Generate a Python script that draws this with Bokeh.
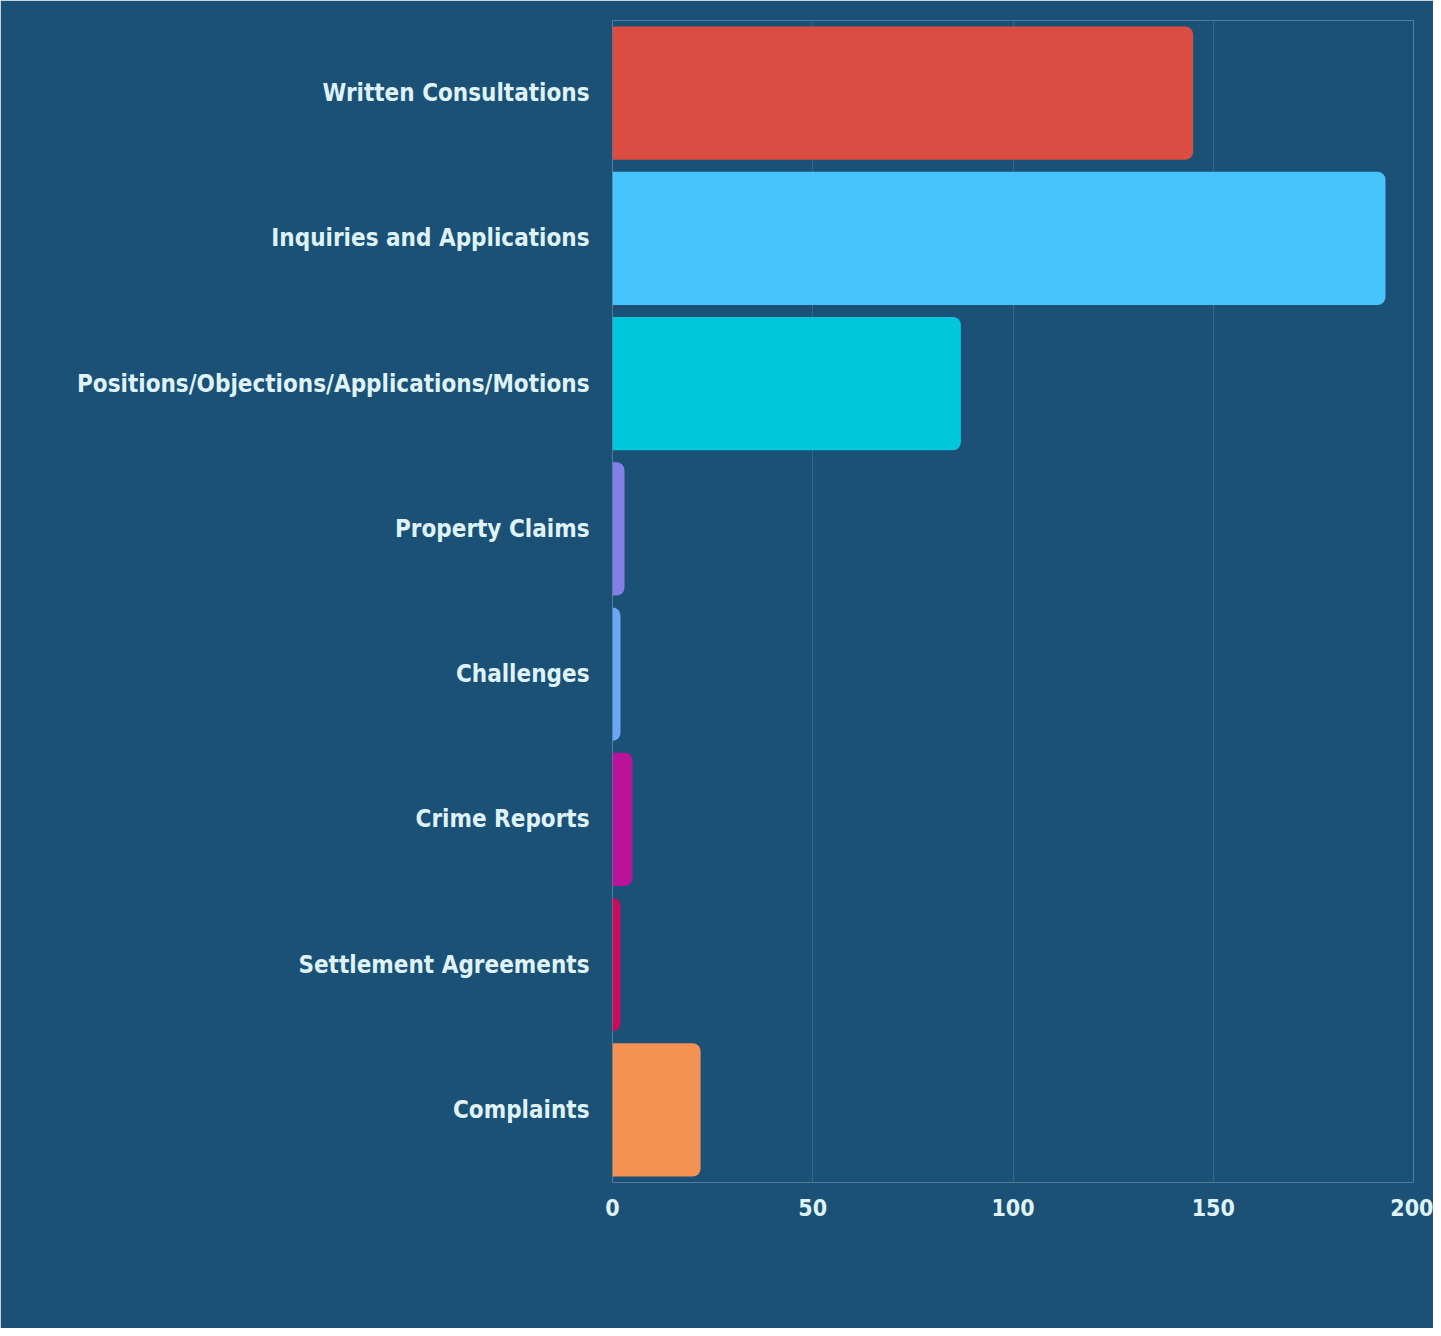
from bokeh.plotting import figure
from bokeh.models import FactorRange, ColumnDataSource, Range1d, FixedTicker
from bokeh.embed import file_html
from bokeh.resources import INLINE

categories = ["Written Consultations", "Inquiries and Applications",
              "Positions/Objections/Applications/Motions", "Property Claims",
              "Challenges", "Crime Reports", "Settlement Agreements", "Complaints"]
values = [145, 193, 87, 3, 2, 5, 2, 22]
colors = ["#db4c42", "#48c4fd", "#00c7db", "#8280e6", "#6aa8f3", "#bb139a", "#cc0a5b", "#f39253"]
x_ticks = [0, 50, 100, 150, 200]

BG = "#1b5077"
TXT = "#dff3f6"
FONT = "'DejaVu Sans Condensed', 'Liberation Sans Narrow', 'Roboto', sans-serif"

src = ColumnDataSource(dict(cat=categories, val=values, color=colors))

p = figure(width=1433, height=1328, output_backend="svg", toolbar_location=None,
           y_range=FactorRange(*categories[::-1], range_padding=0.0),
           x_range=Range1d(0, 200))
p.min_border_left = 612
p.min_border_right = 20
p.min_border_top = 20
p.min_border_bottom = 146
p.background_fill_color = BG
p.border_fill_color = BG
p.outline_line_color = None

p.hbar(y="cat", right="val", left=0, height=0.917, color="color", source=src,
       line_color=None, border_radius=(0, 8, 8, 0))

p.xgrid.ticker = FixedTicker(ticks=x_ticks)
p.xaxis.ticker = FixedTicker(ticks=x_ticks)
p.xgrid.grid_line_color = "#34668c"
p.xgrid.grid_line_width = 1
p.ygrid.grid_line_color = None

for ax in (p.xaxis[0], p.yaxis[0]):
    ax.axis_line_color = None
    ax.major_tick_line_color = None
    ax.minor_tick_line_color = None
    ax.major_label_text_color = TXT
    ax.major_label_text_font = FONT
    ax.major_label_text_font_style = "bold"

p.yaxis.major_label_text_font_size = "24px"
p.xaxis.major_label_text_font_size = "23px"
p.yaxis.major_label_standoff = 17
p.xaxis.major_label_standoff = 10

open("out.html", "w").write(file_html(p, INLINE))
